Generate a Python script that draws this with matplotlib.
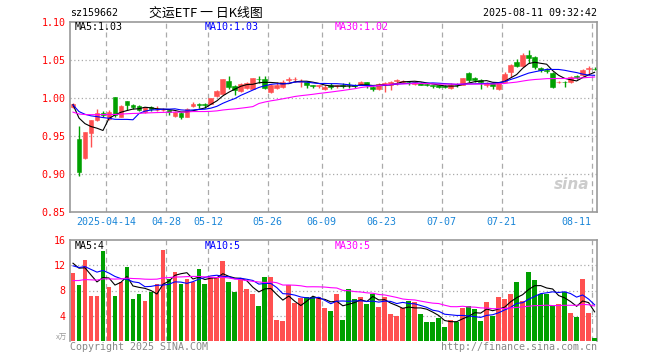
import pandas as pd
from matplotlib import pyplot as plt
from matplotlib.patches import Rectangle

# trading days shown (2025-04-03 .. 2025-08-11, exchange holidays removed)
holidays = ["2025-04-04", "2025-05-01", "2025-05-02", "2025-05-05", "2025-06-02"]
days = pd.bdate_range("2025-04-03", "2025-08-11")
days = days[~days.isin(pd.to_datetime(holidays))]

tick_dates = ["2025-04-14", "2025-04-28", "2025-05-12", "2025-05-26", "2025-06-09",
              "2025-06-23", "2025-07-07", "2025-07-21", "2025-08-11"]
tick_labels = ["2025-04-14", "04-28", "05-12", "05-26", "06-09", "06-23", "07-07", "07-21", "08-11"]

open_ = [0.987, 0.945, 0.920, 0.953, 0.970, 0.980, 0.972, 1.001, 0.975, 0.995,
         0.990, 0.989, 0.981, 0.988, 0.983, 0.983, 0.983, 0.976, 0.980, 0.975,
         0.989, 0.991, 0.991, 0.992, 1.002, 1.005, 1.022, 1.015, 1.008, 1.012,
         1.011, 1.025, 1.024, 1.007, 1.012, 1.014, 1.023, 1.024, 1.020, 1.021,
         1.016, 1.015, 1.011, 1.016, 1.015, 1.016, 1.017, 1.016, 1.017, 1.020,
         1.014, 1.011, 1.017, 1.016, 1.022, 1.021, 1.021, 1.018, 1.019, 1.018,
         1.016, 1.016, 1.015, 1.013, 1.017, 1.017, 1.032, 1.026, 1.023, 1.017,
         1.019, 1.011, 1.021, 1.034, 1.047, 1.041, 1.056, 1.053, 1.039, 1.036,
         1.032, 1.020, 1.021, 1.021, 1.028, 1.030, 1.038, 1.038]
high = [0.993, 0.962, 0.955, 0.971, 0.985, 0.982, 0.983, 1.001, 0.990, 0.996,
        0.991, 0.990, 0.988, 0.989, 0.989, 0.986, 0.984, 0.982, 0.981, 0.986,
        0.994, 0.993, 0.993, 0.999, 1.010, 1.024, 1.028, 1.016, 1.019, 1.021,
        1.026, 1.028, 1.028, 1.018, 1.020, 1.023, 1.027, 1.027, 1.024, 1.022,
        1.017, 1.017, 1.016, 1.019, 1.017, 1.019, 1.020, 1.018, 1.022, 1.021,
        1.015, 1.019, 1.020, 1.022, 1.025, 1.023, 1.022, 1.022, 1.021, 1.019,
        1.017, 1.017, 1.016, 1.019, 1.019, 1.026, 1.033, 1.027, 1.024, 1.021,
        1.021, 1.021, 1.033, 1.044, 1.051, 1.058, 1.062, 1.055, 1.040, 1.039,
        1.033, 1.022, 1.022, 1.028, 1.030, 1.037, 1.041, 1.040]
low = [0.986, 0.897, 0.919, 0.935, 0.969, 0.975, 0.971, 0.974, 0.975, 0.983,
       0.985, 0.982, 0.979, 0.982, 0.982, 0.982, 0.977, 0.975, 0.972, 0.975,
       0.988, 0.986, 0.986, 0.991, 1.001, 1.005, 1.011, 1.003, 1.007, 1.011,
       1.011, 1.019, 1.011, 1.006, 1.011, 1.013, 1.020, 1.021, 1.014, 1.013,
       1.013, 1.013, 1.010, 1.011, 1.012, 1.012, 1.012, 1.012, 1.016, 1.012,
       1.008, 1.010, 1.007, 1.010, 1.017, 1.019, 1.017, 1.017, 1.016, 1.015,
       1.012, 1.013, 1.012, 1.011, 1.014, 1.017, 1.021, 1.021, 1.011, 1.014,
       1.011, 1.010, 1.020, 1.027, 1.040, 1.040, 1.046, 1.037, 1.033, 1.032,
       1.012, 1.019, 1.014, 1.019, 1.025, 1.028, 1.030, 1.036]
close = [0.992, 0.902, 0.954, 0.971, 0.979, 0.977, 0.981, 0.977, 0.989, 0.990,
         0.987, 0.983, 0.987, 0.985, 0.984, 0.984, 0.981, 0.981, 0.975, 0.985,
         0.991, 0.990, 0.990, 0.999, 1.008, 1.024, 1.014, 1.010, 1.018, 1.019,
         1.026, 1.024, 1.013, 1.017, 1.016, 1.021, 1.024, 1.025, 1.021, 1.016,
         1.015, 1.016, 1.014, 1.014, 1.016, 1.015, 1.016, 1.015, 1.021, 1.016,
         1.011, 1.018, 1.019, 1.021, 1.023, 1.022, 1.020, 1.021, 1.017, 1.016,
         1.015, 1.014, 1.014, 1.016, 1.016, 1.026, 1.023, 1.023, 1.020, 1.019,
         1.015, 1.021, 1.031, 1.043, 1.041, 1.056, 1.052, 1.040, 1.036, 1.035,
         1.014, 1.021, 1.020, 1.027, 1.027, 1.036, 1.039, 1.037]
# volume in units of 10k lots
volume = [10.8, 8.8, 12.8, 7.2, 7.2, 14.2, 8.5, 7.2, 9.4, 11.8,
          6.7, 7.4, 6.4, 7.7, 9.0, 14.4, 9.9, 11.0, 9.0, 9.8,
          9.4, 11.4, 9.1, 10.1, 10.1, 12.6, 9.3, 7.8, 9.8, 8.2,
          7.5, 5.6, 10.2, 10.1, 3.4, 3.1, 8.8, 6.0, 6.8, 6.9,
          7.0, 7.0, 5.3, 4.8, 7.4, 3.4, 8.2, 6.7, 7.0, 5.9,
          7.5, 5.4, 6.9, 4.3, 4.0, 5.3, 6.4, 6.2, 4.3, 3.0,
          3.0, 3.7, 2.2, 3.4, 3.0, 5.3, 5.6, 5.1, 3.1, 6.2,
          4.0, 6.9, 6.6, 7.4, 9.4, 6.4, 11.0, 9.6, 7.5, 7.5,
          5.6, 5.8, 7.8, 4.5, 3.8, 9.8, 4.5, 0.5]

# sessions before the window, only used to warm up the moving averages
prior_close = [0.975, 0.976, 0.977, 0.976, 0.975, 0.976, 0.977, 0.976, 0.975, 0.976,
               0.977, 0.976, 0.975, 0.976, 0.977, 0.976, 0.975, 0.976, 0.977, 0.976,
               0.989, 0.990, 0.991, 0.990, 0.989, 0.990, 0.991, 0.990, 0.990]
prior_volume = [8.4, 8.2, 8.6, 8.4, 8.3, 8.5, 8.4, 8.2, 8.6, 8.4,
                8.3, 8.5, 8.4, 8.2, 8.6, 8.4, 8.3, 8.5, 8.4, 8.4,
                11.5, 11.3, 11.7, 11.5, 11.5, 12.7, 12.5, 12.9, 12.7]

ma_windows = [5, 10, 30]
ma_colors = ["#000000", "#0000ff", "#ff00ff"]
price_ma_text = ["MA5:1.03", "MA10:1.03", "MA30:1.02"]
vol_ma_text = ["MA5:4", "MA10:5", "MA30:5"]

RED = "#ff5050"
GREEN = "#00a000"
GRID = "#aaaaaa"
FRAME = "#999999"
MONO = "DejaVu Sans Mono"
CJK = ["Noto Sans CJK SC", "DejaVu Sans"]

n = len(close)
xs = list(range(n))
ups = [c >= o for o, c in zip(open_, close)]
colors = [RED if u else GREEN for u in ups]

price_all = pd.Series(prior_close + close)
vol_all = pd.Series(prior_volume + volume)
price_ma = [price_all.rolling(w).mean().iloc[len(prior_close):].values for w in ma_windows]
vol_ma = [vol_all.rolling(w).mean().iloc[len(prior_volume):].values for w in ma_windows]

tick_pos = [list(days.strftime("%Y-%m-%d")).index(d) - 0.5 for d in tick_dates]

W, H = 660, 360
fig = plt.figure(figsize=(W / 100, H / 100), dpi=100)
fig.patch.set_facecolor("white")

ax = fig.add_axes([70 / W, 1 - 211.5 / H, 527 / W, 190 / H])
axv = fig.add_axes([70 / W, 1 - 341 / H, 527 / W, 101 / H])

for a in (ax, axv):
    a.set_xlim(-0.5, n - 0.6)
    for s in a.spines.values():
        s.set_color(FRAME)
        s.set_linewidth(1.2)
    for p in tick_pos:
        a.axvline(p, color=GRID, lw=0.9, ls=(0, (4, 3)), zorder=0)
    a.tick_params(length=0, labelsize=7.2, colors="red", pad=3)

# candles
for x, o, h, l, c, col in zip(xs, open_, high, low, close, colors):
    ax.vlines(x, l, h, color=col, lw=1, zorder=3)
    bottom = min(o, c)
    height = max(abs(c - o), 0.0006)
    ax.add_patch(Rectangle((x - 0.4, bottom), 0.8, height, facecolor=col,
                           edgecolor=col, lw=0.4, zorder=4))

for m, col in zip(price_ma, ma_colors):
    ax.plot(xs, m, color=col, lw=0.8, zorder=5)

ax.set_ylim(0.85, 1.10)
yt = [0.85, 0.90, 0.95, 1.00, 1.05, 1.10]
ax.set_yticks(yt)
ax.set_yticklabels([f"{v:.2f}" for v in yt], family=MONO)
for v in yt[1:-1]:
    ax.axhline(v, color=GRID, lw=0.9, ls=(0, (1, 2)), zorder=0)
ax.set_xticks(tick_pos)
ax.set_xticklabels(tick_labels, family=MONO, color="#1a86d8")
ax.tick_params(axis="x", colors="#1a86d8", pad=4)
ax.get_xticklabels()[-1].set_ha("right")

# volume bars
axv.bar(xs, volume, width=0.8, color=colors, zorder=3)
for m, col in zip(vol_ma, ma_colors):
    axv.plot(xs, m, color=col, lw=0.8, zorder=5)
axv.set_ylim(0, 16)
vt = [4, 8, 12, 16]
axv.set_yticks(vt)
axv.set_yticklabels([str(v) for v in vt], family=MONO)
for v in vt[:-1]:
    axv.axhline(v, color=GRID, lw=0.9, ls=(0, (1, 2)), zorder=0)
axv.set_xticks([])
axv.spines["bottom"].set_visible(False)

# legends of moving averages
for txt, col, px in zip(price_ma_text, ma_colors, [75, 205, 335]):
    fig.text(px / W, 1 - 27 / H, txt, color=col, family=MONO, fontsize=7.2, va="center")
for txt, col, px in zip(vol_ma_text, ma_colors, [75, 205, 335]):
    fig.text(px / W, 1 - 246 / H, txt, color=col, family=MONO, fontsize=7.2, va="center")

# header
fig.text(70 / W, 1 - 13 / H, "sz159662", family=MONO, fontsize=7.2, va="center")
fig.text(149 / W, 1 - 13 / H, "交运ETF 一 日K线图", family=CJK, fontsize=9.3, va="center")
fig.text(597 / W, 1 - 13 / H, "2025-08-11 09:32:42", family=MONO, fontsize=7.2,
         va="center", ha="right")

# footer
fig.text(70 / W, 1 - 347 / H, "Copyright 2025 SINA.COM", family=MONO, fontsize=7.2,
         color="#888888", va="center")
fig.text(597 / W, 1 - 347 / H, "http://finance.sina.com.cn", family=MONO, fontsize=7.2,
         color="#888888", va="center", ha="right")
fig.text(67 / W, 1 - 338 / H, "x万", family=CJK, fontsize=5.5,
         color="#999999", va="center", ha="right")

# watermark
ax.text(0.985, 0.14, "sina", transform=ax.transAxes, ha="right", va="center",
        fontsize=11, fontweight="bold", style="italic", color="#cccccc", zorder=1)

fig.savefig("out.png", dpi=100)
